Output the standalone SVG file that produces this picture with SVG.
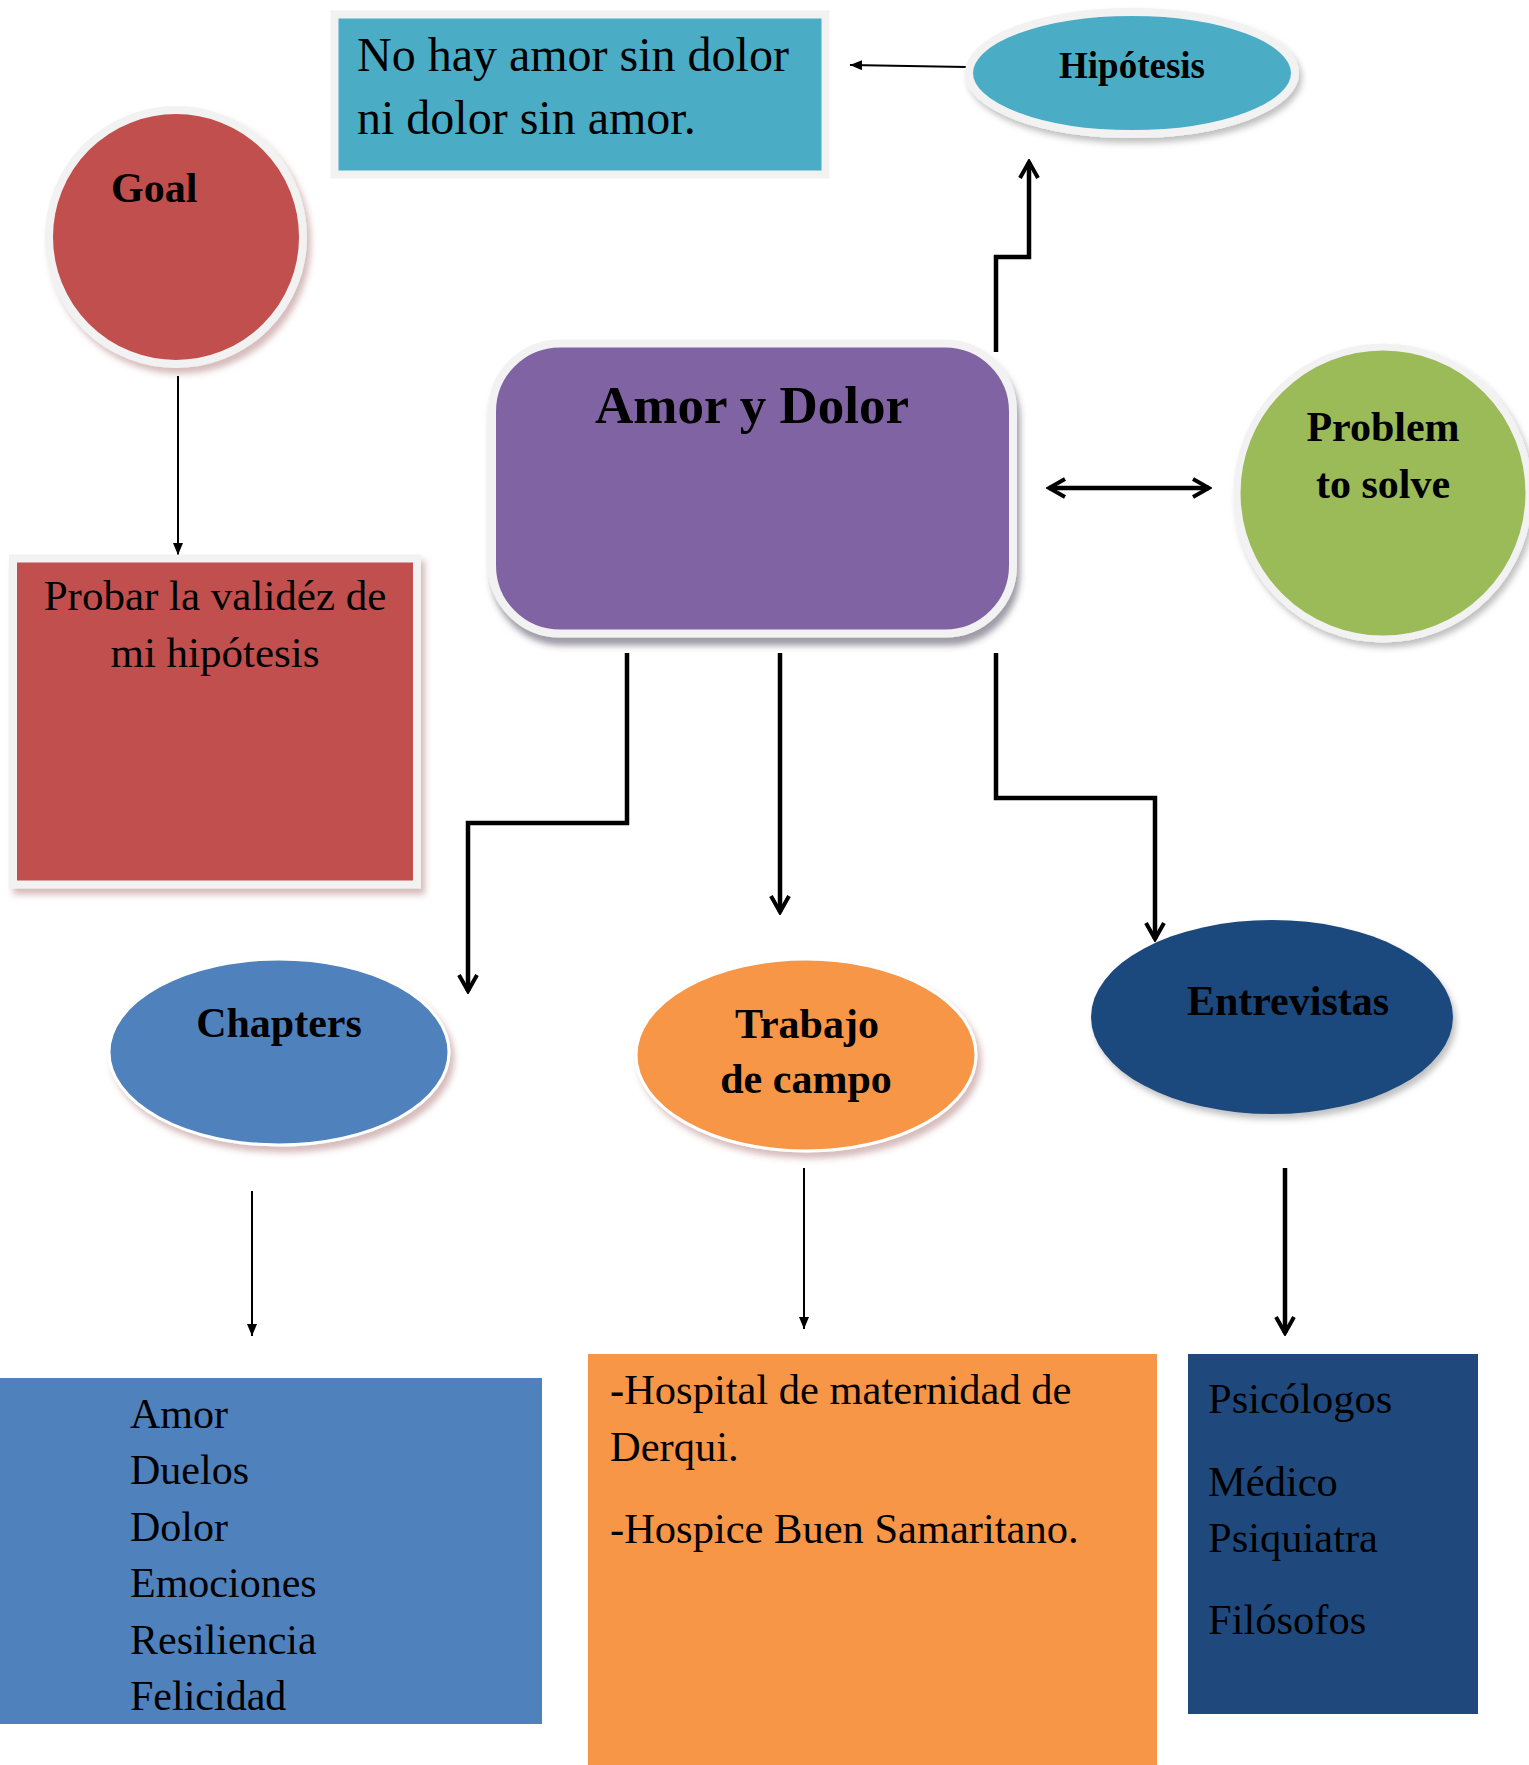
<svg xmlns="http://www.w3.org/2000/svg" width="1529" height="1765" viewBox="0 0 1529 1765">
<style>
.t { font-family: "Liberation Serif", "Times New Roman", serif; fill: #000; }
.b { font-weight: bold; }
.c { text-anchor: middle; }
.ring { stroke: #f2f2f2; stroke-width: 8; }
.thick { fill: none; stroke: #000; stroke-width: 4.5; }
.thin { fill: none; stroke: #000; stroke-width: 2; }
</style>
<defs>
<filter id="shGray" x="-10%" y="-10%" width="125%" height="130%">
<feDropShadow dx="3" dy="8" stdDeviation="3" flood-color="#3a3550" flood-opacity="0.5"/>
</filter>
<filter id="shSoft" x="-10%" y="-10%" width="125%" height="130%">
<feDropShadow dx="3" dy="5" stdDeviation="3" flood-color="#000" flood-opacity="0.25"/>
</filter>
<filter id="shPink" x="-10%" y="-10%" width="125%" height="130%">
<feDropShadow dx="4" dy="6" stdDeviation="3" flood-color="#8b3a3a" flood-opacity="0.35"/>
</filter>
<marker id="open" viewBox="0 0 22 22" markerWidth="22" markerHeight="22" refX="19" refY="11" orient="auto-start-reverse" markerUnits="userSpaceOnUse">
<path d="M3,2 L19,11 L3,20" fill="none" stroke="#000" stroke-width="4"/>
</marker>
<marker id="tri" viewBox="0 0 12 10" markerWidth="12" markerHeight="10" refX="12" refY="5" orient="auto" markerUnits="userSpaceOnUse">
<path d="M0,0 L12,5 L0,10 z" fill="#000"/>
</marker>
</defs>
<rect width="1529" height="1765" fill="#ffffff"/>

<g id="connectors">
<line class="thin" x1="966" y1="67" x2="850" y2="65" marker-end="url(#tri)"/>
<line class="thin" x1="178" y1="376" x2="178" y2="555" marker-end="url(#tri)"/>
<polyline class="thick" points="996,352 996,257 1029,257 1029,162" marker-end="url(#open)"/>
<line class="thick" x1="1049" y1="488" x2="1209" y2="488" marker-start="url(#open)" marker-end="url(#open)"/>
<polyline class="thick" points="627,653 627,823 468,823 468,991" marker-end="url(#open)"/>
<line class="thick" x1="780" y1="653" x2="780" y2="912" marker-end="url(#open)"/>
<polyline class="thick" points="996,653 996,798 1155,798 1155,939" marker-end="url(#open)"/>
<line class="thin" x1="252" y1="1191" x2="252" y2="1336" marker-end="url(#tri)"/>
<line class="thin" x1="804" y1="1168" x2="804" y2="1329" marker-end="url(#tri)"/>
<line class="thick" x1="1285" y1="1168" x2="1285" y2="1333" marker-end="url(#open)"/>
</g>

<g id="quote">
<rect x="334.5" y="14.5" width="491" height="160" fill="#4bacc6" class="ring"/>
<text class="t" x="357" y="71" font-size="48">No hay amor sin dolor</text>
<text class="t" x="357" y="134" font-size="48">ni dolor sin amor.</text>
</g>

<g id="hipotesis">
<ellipse cx="1132" cy="73" rx="163" ry="61" fill="#4bacc6" class="ring" filter="url(#shSoft)"/>
<text class="t b c" x="1132" y="78" font-size="37">Hipótesis</text>
</g>

<g id="goal">
<circle cx="176" cy="237" r="127" fill="#c0504d" class="ring" filter="url(#shPink)"/>
<text class="t b" x="111" y="202" font-size="42">Goal</text>
</g>

<g id="probar">
<rect x="13" y="558.5" width="404" height="326" fill="#c0504d" class="ring" filter="url(#shPink)"/>
<text class="t c" x="215" y="610" font-size="43">Probar la validéz de</text>
<text class="t c" x="215" y="667" font-size="43">mi hipótesis</text>
</g>

<g id="amor">
<rect x="492" y="343.5" width="521" height="290" rx="68" ry="68" fill="#8064a2" class="ring" filter="url(#shGray)"/>
<text class="t b c" x="752" y="423" font-size="53">Amor y Dolor</text>
</g>

<g id="problem">
<circle cx="1383" cy="493" r="146" fill="#9bbb59" stroke="#f2f2f2" stroke-width="7" filter="url(#shSoft)"/>
<text class="t b c" x="1383" y="441" font-size="42">Problem</text>
<text class="t b c" x="1383" y="498" font-size="42">to solve</text>
</g>

<g id="chapters">
<ellipse cx="279" cy="1052" rx="170" ry="93" fill="#4f81bd" stroke="#ffffff" stroke-width="3" filter="url(#shPink)"/>
<text class="t b c" x="279" y="1037" font-size="42">Chapters</text>
</g>

<g id="trabajo">
<ellipse cx="806" cy="1055" rx="170" ry="96" fill="#f79646" stroke="#ffffff" stroke-width="3" filter="url(#shPink)"/>
<text class="t b c" x="807" y="1038" font-size="42">Trabajo</text>
<text class="t b c" x="806" y="1093" font-size="42">de campo</text>
</g>

<g id="entrevistas">
<ellipse cx="1272" cy="1017" rx="181" ry="97" fill="#1f497d" filter="url(#shSoft)"/>
<text class="t b c" x="1288" y="1015" font-size="42">Entrevistas</text>
</g>

<g id="chapters-list">
<rect x="0" y="1378" width="542" height="346" fill="#4f81bd"/>
<text class="t" x="130" y="1428" font-size="42">Amor</text>
<text class="t" x="130" y="1484" font-size="42">Duelos</text>
<text class="t" x="130" y="1541" font-size="42">Dolor</text>
<text class="t" x="130" y="1597" font-size="42">Emociones</text>
<text class="t" x="130" y="1654" font-size="42">Resiliencia</text>
<text class="t" x="130" y="1710" font-size="42">Felicidad</text>
</g>

<g id="campo-list">
<rect x="588" y="1354" width="569" height="411" fill="#f79646"/>
<text class="t" x="610" y="1404" font-size="42.5"><tspan font-weight="bold">-</tspan>Hospital de maternidad de</text>
<text class="t" x="610" y="1461" font-size="42.5">Derqui.</text>
<text class="t" x="610" y="1543" font-size="42.5">-Hospice Buen Samaritano.</text>
</g>

<g id="entrevistas-list">
<rect x="1188" y="1354" width="290" height="360" fill="#1f497d"/>
<text class="t" x="1208" y="1413" font-size="42.5">Psicólogos</text>
<text class="t" x="1208" y="1496" font-size="42.5">Médico</text>
<text class="t" x="1208" y="1552" font-size="42.5">Psiquiatra</text>
<text class="t" x="1208" y="1634" font-size="42.5">Filósofos</text>
</g>
</svg>
